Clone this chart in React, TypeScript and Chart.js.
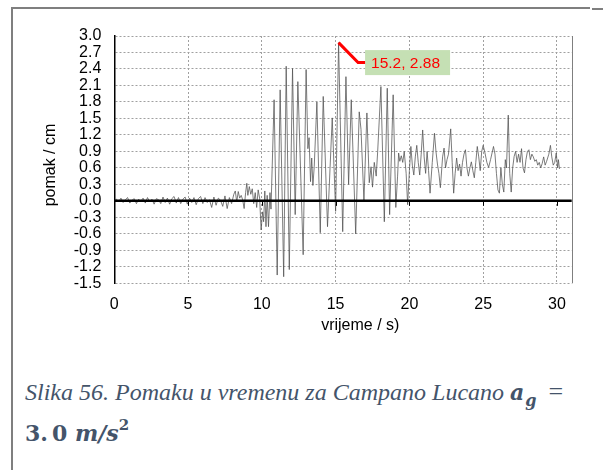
import React, { useEffect, useRef } from "react";
import { Chart, registerables } from "chart.js";

Chart.register(...registerables);

// ---- data ----
const timeS: number[] = [
  0.0, 0.15, 0.3, 0.45, 0.6, 0.75, 0.9, 1.05, 1.2, 1.35, 1.5, 1.65, 1.8, 1.95,
  2.1, 2.25, 2.4, 2.55, 2.7, 2.85, 3.0, 3.15, 3.3, 3.45, 3.6, 3.75, 3.9, 4.05,
  4.2, 4.35, 4.5, 4.65, 4.8, 4.95, 5.1, 5.25, 5.4, 5.55, 5.7, 5.85, 6.0, 6.15,
  6.3, 6.45, 6.6, 6.75, 6.9, 7.05, 7.2, 7.35, 7.5, 7.65, 7.8, 7.95,
  8.1, 8.2, 8.3, 8.4, 8.5, 8.6, 8.7, 8.8, 8.9, 8.98, 9.05, 9.15, 9.25, 9.35,
  9.45, 9.55, 9.65, 9.75, 9.85, 9.95, 10.05, 10.12, 10.2, 10.28, 10.36, 10.45,
  10.55, 10.62,
  10.83, 11.04, 11.24, 11.48, 11.65, 11.86, 12.08, 12.26, 12.44, 12.8, 13.0,
  13.12, 13.2, 13.3, 13.38, 13.46, 13.55, 13.73, 13.96, 14.16, 14.45, 14.77,
  15.0, 15.2, 15.48, 15.7, 15.88, 16.06, 16.36, 16.6, 16.72, 16.92, 17.12,
  17.28, 17.4, 17.5, 17.62, 17.75, 17.85, 18.07, 18.3, 18.5, 18.66, 18.9,
  19.08, 19.2, 19.27, 19.35, 19.45, 19.55, 19.65, 19.78, 19.88, 20.0, 20.1,
  20.2, 20.3, 20.4, 20.5, 20.6, 20.7, 20.8, 20.9, 21.0, 21.1, 21.2, 21.3, 21.4,
  21.55, 21.7, 21.8, 21.9, 22.0, 22.1, 22.25, 22.35, 22.45, 22.55, 22.65, 22.8,
  22.9, 23.0, 23.1, 23.2, 23.3, 23.4, 23.5, 23.6, 23.7, 23.8, 23.9, 24.0, 24.1,
  24.2, 24.3, 24.4, 24.5, 24.6, 24.7, 24.8, 24.9, 25.0, 25.1, 25.25, 25.37,
  25.5, 25.6, 25.7, 25.8, 25.9, 26.0, 26.1, 26.2, 26.3, 26.4, 26.5, 26.58,
  26.7, 26.8, 26.9, 27.0, 27.1, 27.2, 27.3, 27.4, 27.5, 27.6, 27.7, 27.8, 27.9,
  28.0, 28.1, 28.2, 28.3, 28.4, 28.5, 28.6, 28.7, 28.8, 28.9, 29.0, 29.1, 29.2,
  29.3, 29.45, 29.56, 29.65, 29.75, 29.85, 29.95, 30.05, 30.1, 30.17,
];

const displacementCm: number[] = [
  0.0, 0.03, -0.02, 0.05, -0.03, 0.02, 0.06, -0.04, 0.01, 0.04, -0.05, 0.03,
  -0.01, 0.05, -0.04, 0.06, -0.02, 0.03, -0.06, 0.04, 0.02, -0.05, 0.07, -0.03,
  0.05, -0.06, 0.04, 0.08, -0.04, 0.06, -0.05, 0.03, 0.07, -0.06, 0.05, -0.03,
  0.06, -0.07, 0.04, 0.08, -0.05, 0.06, -0.03, 0.02, -0.12, 0.07, -0.08, 0.05,
  0.01, -0.1, 0.09, -0.14, 0.06, -0.05,
  0.12, 0.18, -0.02, 0.17, 0.05, 0.1, 0.02, -0.14, 0.15, 0.32, 0.1, 0.26, 0.12,
  0.22, -0.05, 0.15, -0.12, 0.2, 0.05, -0.53, -0.2, -0.38, 0.18, -0.47, 0.1,
  -0.47, 0.15, -0.15,
  1.84, -1.35, 2.02, -1.38, 2.45, -1.25, 2.41, -0.25, 2.17, -0.98, 2.39,
  0.95, 1.15, 0.35, 0.78, 0.28, 0.62, 1.8, -0.58, 1.9, -0.47, 1.51,
  -0.19, 2.88, -0.56, 2.26, 0.3, 1.84, -0.6, 1.62, 1.3, 0.0, 1.6,
  0.33, 0.62, 0.25, 0.7, 0.45, 0.9, 2.08, -0.38, 2.05, -0.25, 1.93,
  -0.12, 0.45, 0.87, 0.72, 0.82, 0.7, 0.9, 0.5, -0.07, 0.55, 0.99,
  0.65, 0.47, 0.8, 1.01, 0.7, 0.47, 0.85, 1.29, 0.8, 0.5, 0.9, 0.55, 0.14,
  0.7, 1.23, 0.9, 0.67, 0.5, 0.24, 0.8, 0.96, 0.6, 0.75, 0.85, 1.31,
  0.7, 0.14, 0.5, 0.78, 0.55, 0.67, 0.45, 0.7, 0.85, 0.93, 0.6, 0.45, 0.6,
  0.71, 0.55, 0.42, 0.7, 0.99, 0.8, 0.55, 0.9, 1.01, 0.9, 0.7, 0.61,
  0.75, 0.87, 0.99, 0.85, 0.5, 0.2, 0.14, 0.6, 0.3, 0.16, 0.75, 0.6,
  1.56, 0.5, 0.16, 0.6, 0.81, 0.9, 0.7, 0.85, 0.7, 0.95, 0.6, 0.51, 0.75,
  0.9, 0.93, 0.75, 0.85, 0.8, 0.72, 0.75, 0.65, 0.7, 0.6, 0.68, 0.8, 0.65,
  0.72, 0.85, 1.01, 0.8, 0.65, 0.7, 0.87, 0.6, 0.75, 0.58,
];

const xTickValues: number[] = [0, 5, 10, 15, 20, 25, 30];
const yTickValues: number[] = [
  -1.5, -1.2, -0.9, -0.6, -0.3, 0, 0.3, 0.6, 0.9, 1.2, 1.5, 1.8, 2.1, 2.4, 2.7, 3.0,
];
const xAxisTitle = "vrijeme / s)";
const yAxisTitle = "pomak / cm";
const peakTime = 15.2;
const peakValue = 2.88;
const peakLabel = "15.2, 2.88";

const CANVAS_W = 603;
const CANVAS_H = 345;

const decorPlugin = {
  id: "decor",
  afterDatasetsDraw(chart: any) {
    const { ctx, chartArea, scales } = chart;
    const xs = scales.x;
    const ys = scales.y;
    const y0 = ys.getPixelForValue(0);
    ctx.save();
    ctx.strokeStyle = "#7f7f7f";
    ctx.lineWidth = 1;
    ctx.beginPath();
    ctx.moveTo(Math.round(chartArea.right) + 0.5, chartArea.top);
    ctx.lineTo(Math.round(chartArea.right) + 0.5, chartArea.bottom);
    ctx.stroke();
    ctx.strokeStyle = "#000";
    ctx.lineWidth = 2.5;
    ctx.beginPath();
    ctx.moveTo(chartArea.left, y0);
    ctx.lineTo(chartArea.right, y0);
    ctx.stroke();
    ctx.lineWidth = 1;
    xTickValues.forEach((v) => {
      const px = Math.round(xs.getPixelForValue(v)) + 0.5;
      ctx.beginPath();
      ctx.moveTo(px, y0);
      ctx.lineTo(px, y0 + 5);
      ctx.stroke();
    });
    ctx.restore();
  },
  afterDraw(chart: any) {
    const { ctx, chartArea, scales } = chart;
    const xs = scales.x;
    const ys = scales.y;
    ctx.save();
    ctx.fillStyle = "#000";
    ctx.font = '16px "Liberation Sans", Arial, sans-serif';
    ctx.textAlign = "center";
    ctx.textBaseline = "middle";
    ctx.fillText(xAxisTitle, chartArea.left + 246, chartArea.bottom + 42);
    ctx.save();
    ctx.translate(51, chartArea.top + 129);
    ctx.rotate(-Math.PI / 2);
    ctx.fillText(yAxisTitle, 0, 0);
    ctx.restore();

    const px = xs.getPixelForValue(peakTime);
    const py = ys.getPixelForValue(peakValue);
    const boxX = px + 26.5;
    const boxY = py + 7.5;
    const boxW = 85;
    const boxH = 25;
    ctx.fillStyle = "#C5E0B4";
    ctx.fillRect(boxX, boxY, boxW, boxH);
    ctx.strokeStyle = "#FF0000";
    ctx.lineWidth = 3;
    ctx.lineJoin = "miter";
    ctx.beginPath();
    ctx.moveTo(px, py);
    ctx.lineTo(px + 19.5, py + 20);
    ctx.lineTo(boxX, py + 20);
    ctx.stroke();
    ctx.fillStyle = "#FF0000";
    ctx.font = '15.5px "Liberation Sans", Arial, sans-serif';
    ctx.textAlign = "left";
    ctx.textBaseline = "middle";
    ctx.fillText(peakLabel, boxX + 6, boxY + boxH / 2 + 1);
    ctx.restore();
  },
};

function DisplacementChart() {
  const canvasRef = useRef<HTMLCanvasElement | null>(null);
  useEffect(() => {
    const canvas = canvasRef.current;
    if (!canvas) return;
    const points = timeS.map((t, i) => ({ x: t, y: displacementCm[i] }));
    const chart = new Chart(canvas, {
      type: "line",
      data: {
        datasets: [
          {
            data: points,
            borderColor: "#505050",
            borderWidth: 0.75,
            pointRadius: 0,
            tension: 0,
            fill: false,
          },
        ],
      },
      options: {
        animation: false,
        responsive: false,
        events: [],
        layout: { padding: { top: 36, right: 31.3, left: 0, bottom: 0 } },
        plugins: {
          legend: { display: false },
          tooltip: { enabled: false },
          title: { display: false },
        },
        scales: {
          x: {
            type: "linear",
            min: 0,
            max: 31,
            afterBuildTicks: (scale: any) => {
              scale.ticks = xTickValues.map((v) => ({ value: v }));
            },
            afterFit: (scale: any) => {
              scale.height = CANVAS_H - 283.3;
            },
            grid: {
              color: "#a0a0a0",
              lineWidth: 1,
              drawTicks: false,
            },
            border: { display: false, dash: [2, 2] },
            ticks: {
              autoSkip: false,
              padding: 12,
              color: "#000",
              font: { family: '"Liberation Sans", Arial, sans-serif', size: 16 },
              maxRotation: 0,
              callback: (v: any) => String(v),
            },
          },
          y: {
            type: "linear",
            min: -1.5,
            max: 3.0,
            afterBuildTicks: (scale: any) => {
              scale.ticks = yTickValues.map((v) => ({ value: v }));
            },
            afterFit: (scale: any) => {
              scale.width = 114.3;
            },
            grid: {
              color: "#a0a0a0",
              lineWidth: 1,
              drawTicks: false,
            },
            border: { display: true, color: "#000", width: 1.5, dash: [2, 2] },
            ticks: {
              autoSkip: false,
              padding: 13,
              color: "#000",
              font: { family: '"Liberation Sans", Arial, sans-serif', size: 16, lineHeight: 1.0 },
              callback: (v: any) => Number(v).toFixed(1),
            },
          },
        },
      },
      plugins: [decorPlugin],
    } as any);
    return () => chart.destroy();
  }, []);
  return (
    <canvas
      ref={canvasRef}
      width={CANVAS_W}
      height={CANVAS_H}
      style={{ position: "absolute", left: 0, top: 0, width: CANVAS_W, height: CANVAS_H }}
    />
  );
}

export default function App() {
  const captionColor = "#44546A";
  return (
    <div
      style={{
        position: "absolute",
        left: 0,
        top: 0,
        width: 603,
        height: 470,
        overflow: "hidden",
        background: "#fff",
      }}
    >
      <DisplacementChart />
      <div style={{ position: "absolute", left: 11, top: 7, width: 579, height: 2, background: "#7f7f7f" }} />
      <div style={{ position: "absolute", left: 592, top: 8, width: 11, height: 2, background: "#7f7f7f" }} />
      <div style={{ position: "absolute", left: 11, top: 7, width: 2, height: 463, background: "#7f7f7f" }} />
      <div
        style={{
          position: "absolute",
          left: 25,
          top: 372,
          whiteSpace: "nowrap",
          fontFamily: '"Liberation Serif", "Times New Roman", serif',
          fontSize: 24,
          lineHeight: "39px",
          color: captionColor,
        }}
      >
        <div>
          <span style={{ fontStyle: "italic" }}>Slika 56. Pomaku u vremenu za Campano Lucano </span>
          <span style={{ fontFamily: '"DejaVu Serif", serif', fontWeight: "bold", fontStyle: "italic", fontSize: 22 }}>a</span>
          <span
            style={{
              fontFamily: '"DejaVu Serif", serif',
              fontWeight: "bold",
              fontStyle: "italic",
              fontSize: 16,
              position: "relative",
              top: 6,
              marginLeft: 1,
            }}
          >
            g
          </span>
          <span style={{ marginLeft: 12, fontSize: 26 }}>=</span>
        </div>
        <div style={{ fontWeight: "bold", fontFamily: '"DejaVu Serif", serif', fontSize: 22 }}>
          <span>3.</span>
          <span style={{ marginLeft: 4 }}>0 </span>
          <span style={{ fontStyle: "italic" }}>m/s</span>
          <span style={{ fontSize: 15, position: "relative", top: -11 }}>2</span>
        </div>
      </div>
    </div>
  );
}
